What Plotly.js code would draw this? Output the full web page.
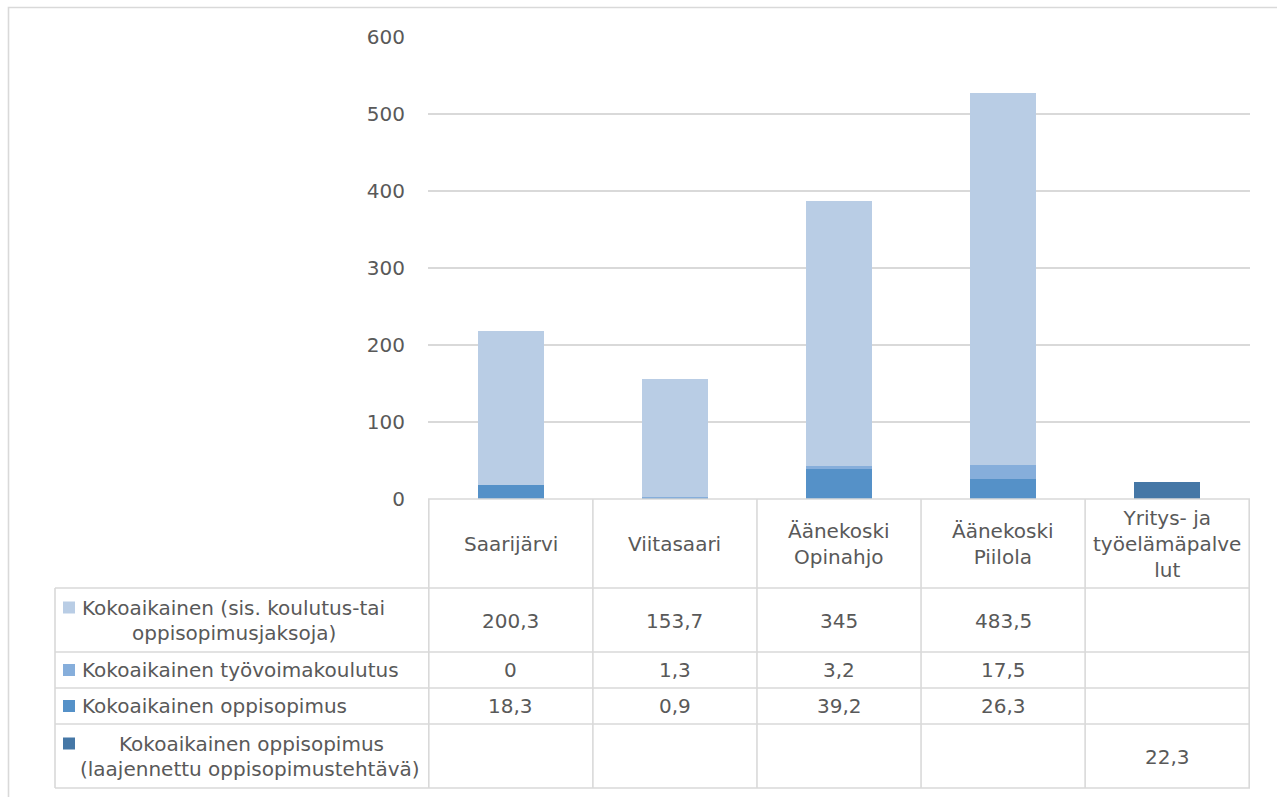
<!DOCTYPE html>
<html>
<head>
<meta charset="utf-8">
<script src="https://cdn.plot.ly/plotly-3.0.1.min.js"></script>
<style>html,body{margin:0;padding:0;background:#fff;}#chart{width:1277px;height:797px;}</style>
</head>
<body>
<div id="chart"></div>
<script>
// ---- data ----
const categories = ['Saarijärvi', 'Viitasaari', 'Äänekoski Opinahjo', 'Äänekoski Piilola', 'Yritys- ja työelämäpalvelut'];
const categoryLabels = ['Saarijärvi', 'Viitasaari', 'Äänekoski<br>Opinahjo', 'Äänekoski<br>Piilola', 'Yritys- ja<br>työelämäpalve<br>lut'];
const seriesNames = ['Kokoaikainen (sis. koulutus-tai oppisopimusjaksoja)', 'Kokoaikainen työvoimakoulutus', 'Kokoaikainen oppisopimus', 'Kokoaikainen oppisopimus (laajennettu oppisopimustehtävä)'];
const legendLines = [
  ['Kokoaikainen (sis. koulutus-tai', 'oppisopimusjaksoja)'],
  ['Kokoaikainen työvoimakoulutus'],
  ['Kokoaikainen oppisopimus'],
  ['Kokoaikainen oppisopimus', '(laajennettu oppisopimustehtävä)']
];
const kokoaikainen = [200.3, 153.7, 345, 483.5, null];
const tyovoimakoulutus = [0, 1.3, 3.2, 17.5, null];
const oppisopimus = [18.3, 0.9, 39.2, 26.3, null];
const laajennettu = [null, null, null, null, 22.3];
const yTicks = [0, 100, 200, 300, 400, 500, 600];

const colors = ['#B9CDE5', '#86AEDB', '#5591C8', '#4577A6'];
const seriesValues = [kokoaikainen, tyovoimakoulutus, oppisopimus, laajennettu];

// ---- layout helpers (pixel -> paper) ----
const L = 428, R = 1250, T = 37, B = 499;
const W = 1277, H = 797;
const px = p => (p - L) / (R - L);
const py = p => (B - p) / (B - T);
const FONT = 'DejaVu Sans';
const TXT = '#595959';
const GRID = '#D9D9D9';

// stacking: oppisopimus bottom, työvoimakoulutus, kokoaikainen on top; laajennettu own category
const order = [2, 1, 0, 3];
const traces = order.map(i => ({
  type: 'bar', x: categories, y: seriesValues[i], name: seriesNames[i],
  marker: {color: colors[i], line: {width: 0}}, hoverinfo: 'y'
}));

const shapes = [];
const annotations = [];
const line = (x0, y0, x1, y1) => shapes.push({type: 'line', xref: 'paper', yref: 'paper',
  x0: px(x0), y0: py(y0), x1: px(x1), y1: py(y1), line: {color: GRID, width: 1.6}});

// outer chart-area border
shapes.push({type: 'rect', xref: 'paper', yref: 'paper', x0: px(8.5), y0: py(7.5), x1: px(1290), y1: py(810),
  line: {color: GRID, width: 1.6}, fillcolor: 'rgba(0,0,0,0)'});

// table horizontal lines
line(L, B, R, B);
[588, 652, 688, 724, 788].forEach(y => line(55, y, R, y));
// table vertical lines
line(55, 588, 55, 788);
for (let i = 0; i <= categories.length; i++) {
  shapes.push({type: 'line', xref: 'x', yref: 'paper', x0: i - 0.5, x1: i - 0.5, y0: py(B), y1: py(788),
    line: {color: GRID, width: 1.6}});
}

// header labels
categoryLabels.forEach((lab, i) => annotations.push({xref: 'x', yref: 'paper', x: categories[i], y: py(544),
  text: lab, showarrow: false, xanchor: 'center', yanchor: 'middle', font: {family: FONT, size: 20, color: TXT}}));

// rows
const rowCenters = [621, 670, 706, 757];
const keyCenters = [607.5, 670, 706, 743.5];
const lineSpecs = [
  [{y: 608, x: 80, a: 'left'}, {y: 633, x: 234, a: 'center'}],
  [{y: 670, x: 80, a: 'left'}],
  [{y: 706, x: 80, a: 'left'}],
  [{y: 744, x: 251, a: 'center'}, {y: 769, x: 250, a: 'center'}]
];
const fmt = v => (v === null || v === undefined) ? '' : String(v).replace('.', ',');
seriesValues.forEach((vals, r) => {
  shapes.push({type: 'rect', xref: 'paper', yref: 'paper', x0: px(63), x1: px(75),
    y0: py(keyCenters[r] - 6), y1: py(keyCenters[r] + 6), fillcolor: colors[r], line: {width: 0}});
  legendLines[r].forEach((t, k) => {
    const s = lineSpecs[r][k];
    annotations.push({xref: 'paper', yref: 'paper', x: px(s.x), y: py(s.y), text: t, showarrow: false,
      xanchor: s.a, yanchor: 'middle', font: {family: FONT, size: 20, color: TXT}});
  });
  vals.forEach((v, i) => {
    if (v === null) return;
    annotations.push({xref: 'x', yref: 'paper', x: categories[i], y: py(rowCenters[r]), text: fmt(v),
      showarrow: false, xanchor: 'center', yanchor: 'middle', font: {family: FONT, size: 20, color: TXT}});
  });
});

const layout = {
  width: W, height: H,
  margin: {l: L, r: W - R, t: T, b: H - B, pad: 0},
  paper_bgcolor: '#fff', plot_bgcolor: '#fff',
  barmode: 'stack', bargap: 0.6,
  showlegend: false,
  font: {family: FONT, size: 20, color: TXT},
  xaxis: {type: 'category', showticklabels: false, showgrid: false, zeroline: false, showline: false, ticks: ''},
  yaxis: {range: [0, 600], tickvals: yTicks, ticktext: yTicks.map(String), showgrid: true, gridcolor: GRID, gridwidth: 1.6,
    zeroline: false, showline: false, ticks: '', ticklabelstandoff: 22,
    tickfont: {family: FONT, size: 20, color: TXT}},
  shapes: shapes,
  annotations: annotations
};

Plotly.newPlot('chart', traces, layout, {displayModeBar: false, staticPlot: true});
</script>
</body>
</html>
